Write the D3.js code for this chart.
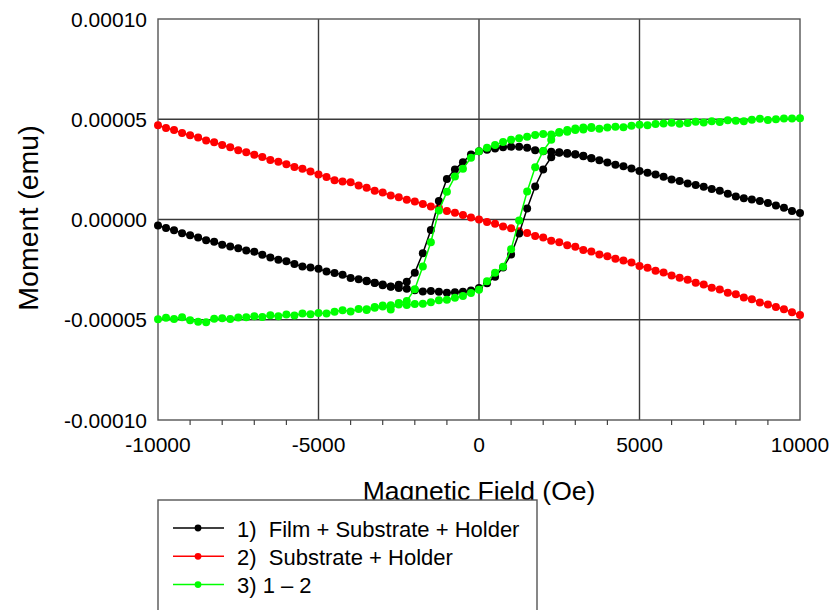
<!DOCTYPE html>
<html>
<head>
<meta charset="utf-8">
<script src="https://cdn.jsdelivr.net/npm/d3@7"></script>
<style>
  body { margin: 0; background: #fff; }
  text { font-family: Arial, "Liberation Sans", sans-serif; fill: #000; }
</style>
</head>
<body>
<div id="chart"></div>
<script>

// field in Oe, moment in 1e-6 emu
var fieldOe = [-10000,-9750,-9500,-9250,-9000,-8750,-8500,-8250,-8000,-7750,-7500,-7250,-7000,-6750,-6500,-6250,-6000,-5750,-5500,-5250,
    -5000,-4750,-4500,-4250,-4000,-3750,-3500,-3250,-3000,-2750,-2500,-2250,-2000,-1750,-1500,-1250,-1000,-750,-500,-250,
    0,250,500,750,1000,1250,1500,1750,2000,2250,2500,2750,3000,3250,3500,3750,4000,4250,4500,4750,
    5000,5250,5500,5750,6000,6250,6500,6750,7000,7250,7500,7750,8000,8250,8500,8750,9000,9250,9500,9750,10000];

var fieldLoopOe = [-3500,-3250,-3000,-2750,-2500,-2250,-2000,-1750,-1500,-1250,-1000,-750,-500,-250,
    0,250,500,750,1000,1250,1500,1750,2000,2250,2500,2750,3000,3250,3500];

var filmDown = [-3.0,-4.2,-5.3,-6.9,-7.8,-9.0,-10.3,-11.1,-12.6,-13.5,-14.3,-15.4,-16.1,-17.6,-18.9,-20.1,-20.8,-22.2,-23.4,-24.0,
    -24.6,-25.9,-26.7,-27.5,-29.2,-29.8,-30.6,-31.5,-32.4,-33.4,-32.6,-31.0,-26.5,-16.8,-5.2,9.2,20.2,25.0,28.6,32.4,
    34.0,34.8,35.4,36.0,36.3,36.3,35.8,34.6,34.0,33.8,33.3,32.8,32.4,31.8,30.6,29.5,28.4,27.3,26.5,25.4,
    24.2,23.3,22.4,21.3,20.0,19.2,17.9,17.2,16.3,15.2,14.3,12.8,11.5,10.6,10.0,9.2,8.2,7.0,5.8,4.2,3.2];

var filmUp = [-30.8,-31.7,-32.8,-33.6,-34.2,-34.5,-35.3,-35.9,-35.7,-36.0,-36.5,-36.3,-36.0,-35.4,
    -34.2,-31.8,-28.5,-24.0,-17.5,-7.0,5.5,16.5,25.0,31.0,33.5,33.2,32.6,31.6,30.5];

var substrate = [47.0,45.6,44.6,43.1,42.0,40.9,39.4,38.5,37.2,36.0,34.6,33.6,32.3,31.2,29.7,28.8,27.6,26.2,25.3,23.9,
    22.4,21.2,19.6,19.0,18.6,16.9,15.8,14.3,13.5,12.0,11.1,9.8,9.0,7.7,6.5,5.8,4.3,3.4,2.2,1.0,
    0.0,-1.2,-2.1,-3.5,-4.4,-5.9,-6.7,-8.2,-9.0,-10.6,-11.4,-12.9,-13.6,-15.2,-16.0,-17.5,-18.3,-19.6,-20.5,-21.4,
    -23.2,-24.1,-25.5,-26.4,-27.9,-29.0,-30.1,-31.6,-32.4,-34.0,-34.9,-36.5,-37.3,-38.9,-39.8,-41.4,-42.4,-43.6,-44.8,-46.3,-47.6];

var diffDown = [-49.8,-49.0,-49.6,-48.8,-50.3,-51.0,-51.3,-49.5,-49.3,-49.6,-48.9,-48.7,-48.3,-48.6,-47.8,-48.2,-47.4,-47.9,-46.9,-47.3,
    -46.6,-46.9,-46.0,-45.2,-45.9,-44.6,-45.1,-43.6,-42.9,-44.9,-41.6,-40.6,-34.8,-23.5,-11.3,4.5,13.8,21.4,25.3,30.8,
    34.0,35.8,37.2,38.6,39.8,40.5,41.3,42.1,42.6,42.4,43.3,43.8,44.6,44.9,45.6,45.2,45.9,46.3,46.0,46.8,
    47.2,47.0,47.6,47.9,48.3,47.8,48.1,48.7,48.4,49.0,48.6,49.5,49.2,49.0,49.8,50.3,49.6,50.0,50.4,50.4,50.5];

var diffUp = [-44.8,-44.0,-43.4,-42.8,-42.4,-42.6,-42.2,-42.0,-41.3,-40.3,-40.0,-39.0,-38.2,-36.6,
    -35.0,-30.8,-26.6,-23.6,-14.8,-0.5,14.0,26.0,34.2,39.8,43.6,44.6,45.4,45.9,46.1];

var xTicks = [-10000, -5000, 0, 5000, 10000];
var xTickLabels = ['-10000', '-5000', '0', '5000', '10000'];
var xMinorTicks = [-9000,-8000,-7000,-6000,-4000,-3000,-2000,-1000,1000,2000,3000,4000,6000,7000,8000,9000];
var yTicks = [-100, -50, 0, 50, 100];
var yTickLabels = ['-0.00010', '-0.00005', '0.00000', '0.00005', '0.00010'];

var legendLabels = ['1)  Film + Substrate + Holder', '2)  Substrate + Holder', '3) 1 \u2013 2'];
var legendColors = ['#000000', '#ff0000', '#00ff00'];


var tWidth = 832, tHeight = 610;
var plotLeft = 158, plotRight = 800, plotTop = 19, plotBottom = 420;

let svg = d3.select('#chart')
    .append('svg')
    .attr('width', tWidth)
    .attr('height', tHeight)

let xScale = d3.scaleLinear().domain([-10000, 10000]).range([plotLeft, plotRight])
let yScale = d3.scaleLinear().domain([-100, 100]).range([plotBottom, plotTop])

// grid
svg.append('g').selectAll('line').data(yTicks.slice(1, -1)).enter().append('line')
    .attr('x1', plotLeft).attr('x2', plotRight)
    .attr('y1', d => yScale(d)).attr('y2', d => yScale(d))
    .attr('stroke', '#3a3a3a').attr('stroke-width', 1.4)

svg.append('g').selectAll('line').data(xTicks.slice(1, -1)).enter().append('line')
    .attr('x1', d => xScale(d)).attr('x2', d => xScale(d))
    .attr('y1', plotTop).attr('y2', plotBottom)
    .attr('stroke', '#3a3a3a').attr('stroke-width', 1.4)

svg.append('rect')
    .attr('x', plotLeft).attr('y', plotTop)
    .attr('width', plotRight - plotLeft).attr('height', plotBottom - plotTop)
    .attr('fill', 'none').attr('stroke', '#555').attr('stroke-width', 1.4)

// x axis minor ticks below the frame
svg.append('g').selectAll('line').data(xMinorTicks).enter().append('line')
    .attr('x1', d => xScale(d)).attr('x2', d => xScale(d))
    .attr('y1', plotBottom).attr('y2', plotBottom + 5)
    .attr('stroke', '#444').attr('stroke-width', 1.2)

svg.append('g').selectAll('text').data(xTicks).enter().append('text')
    .attr('x', d => xScale(d))
    .attr('y', plotBottom + 32)
    .attr('text-anchor', 'middle')
    .attr('font-size', 21)
    .text((d, i) => xTickLabels[i])

svg.append('g').selectAll('text').data(yTicks).enter().append('text')
    .attr('x', plotLeft - 11)
    .attr('y', d => yScale(d) + 7.7)
    .attr('text-anchor', 'end')
    .attr('font-size', 21)
    .text((d, i) => yTickLabels[i])

svg.append('text')
    .attr('transform', 'translate(37.5,218) rotate(-90)')
    .attr('text-anchor', 'middle')
    .attr('font-size', 28.5)
    .text('Moment (emu)')

svg.append('text')
    .attr('x', (plotLeft + plotRight) / 2)
    .attr('y', 500)
    .attr('text-anchor', 'middle')
    .attr('font-size', 26.5)
    .text('Magnetic Field (Oe)')

// data
let series = [
    {color: '#ff0000', branches: [{h: fieldOe, m: substrate}]},
    {color: '#000000', branches: [{h: fieldOe, m: filmDown}, {h: fieldLoopOe, m: filmUp}]},
    {color: '#00ff00', branches: [{h: fieldOe, m: diffDown}, {h: fieldLoopOe, m: diffUp}]}
]

let line = d3.line().x(d => xScale(d[0])).y(d => yScale(d[1]))

series.forEach(s => {
    let g = svg.append('g')
    s.branches.forEach(b => {
        let pts = b.h.map((h, i) => [h, b.m[i]])
        g.append('path')
            .datum(pts)
            .attr('fill', 'none')
            .attr('stroke', s.color)
            .attr('stroke-width', 1.5)
            .attr('d', line)
        g.selectAll(null).data(pts).enter().append('circle')
            .attr('cx', d => xScale(d[0]))
            .attr('cy', d => yScale(d[1]))
            .attr('r', 4)
            .attr('fill', s.color)
    })
})

// legend
let legend = svg.append('g')

legend.append('rect')
    .attr('x', 158).attr('y', 500)
    .attr('width', 379).attr('height', 140)
    .attr('fill', '#fff').attr('stroke', '#555').attr('stroke-width', 1.4)

legendLabels.forEach((lbl, i) => {
    let y = 528 + i * 28.3
    legend.append('line')
        .attr('x1', 173).attr('x2', 224)
        .attr('y1', y).attr('y2', y)
        .attr('stroke', legendColors[i]).attr('stroke-width', 1.5)
    legend.append('circle')
        .attr('cx', 198).attr('cy', y).attr('r', 3.4)
        .attr('fill', legendColors[i])
    legend.append('text')
        .attr('x', 237).attr('y', y + 8.5)
        .attr('font-size', 22)
        .style('white-space', 'pre')
        .text(lbl)
})

</script>
</body>
</html>
